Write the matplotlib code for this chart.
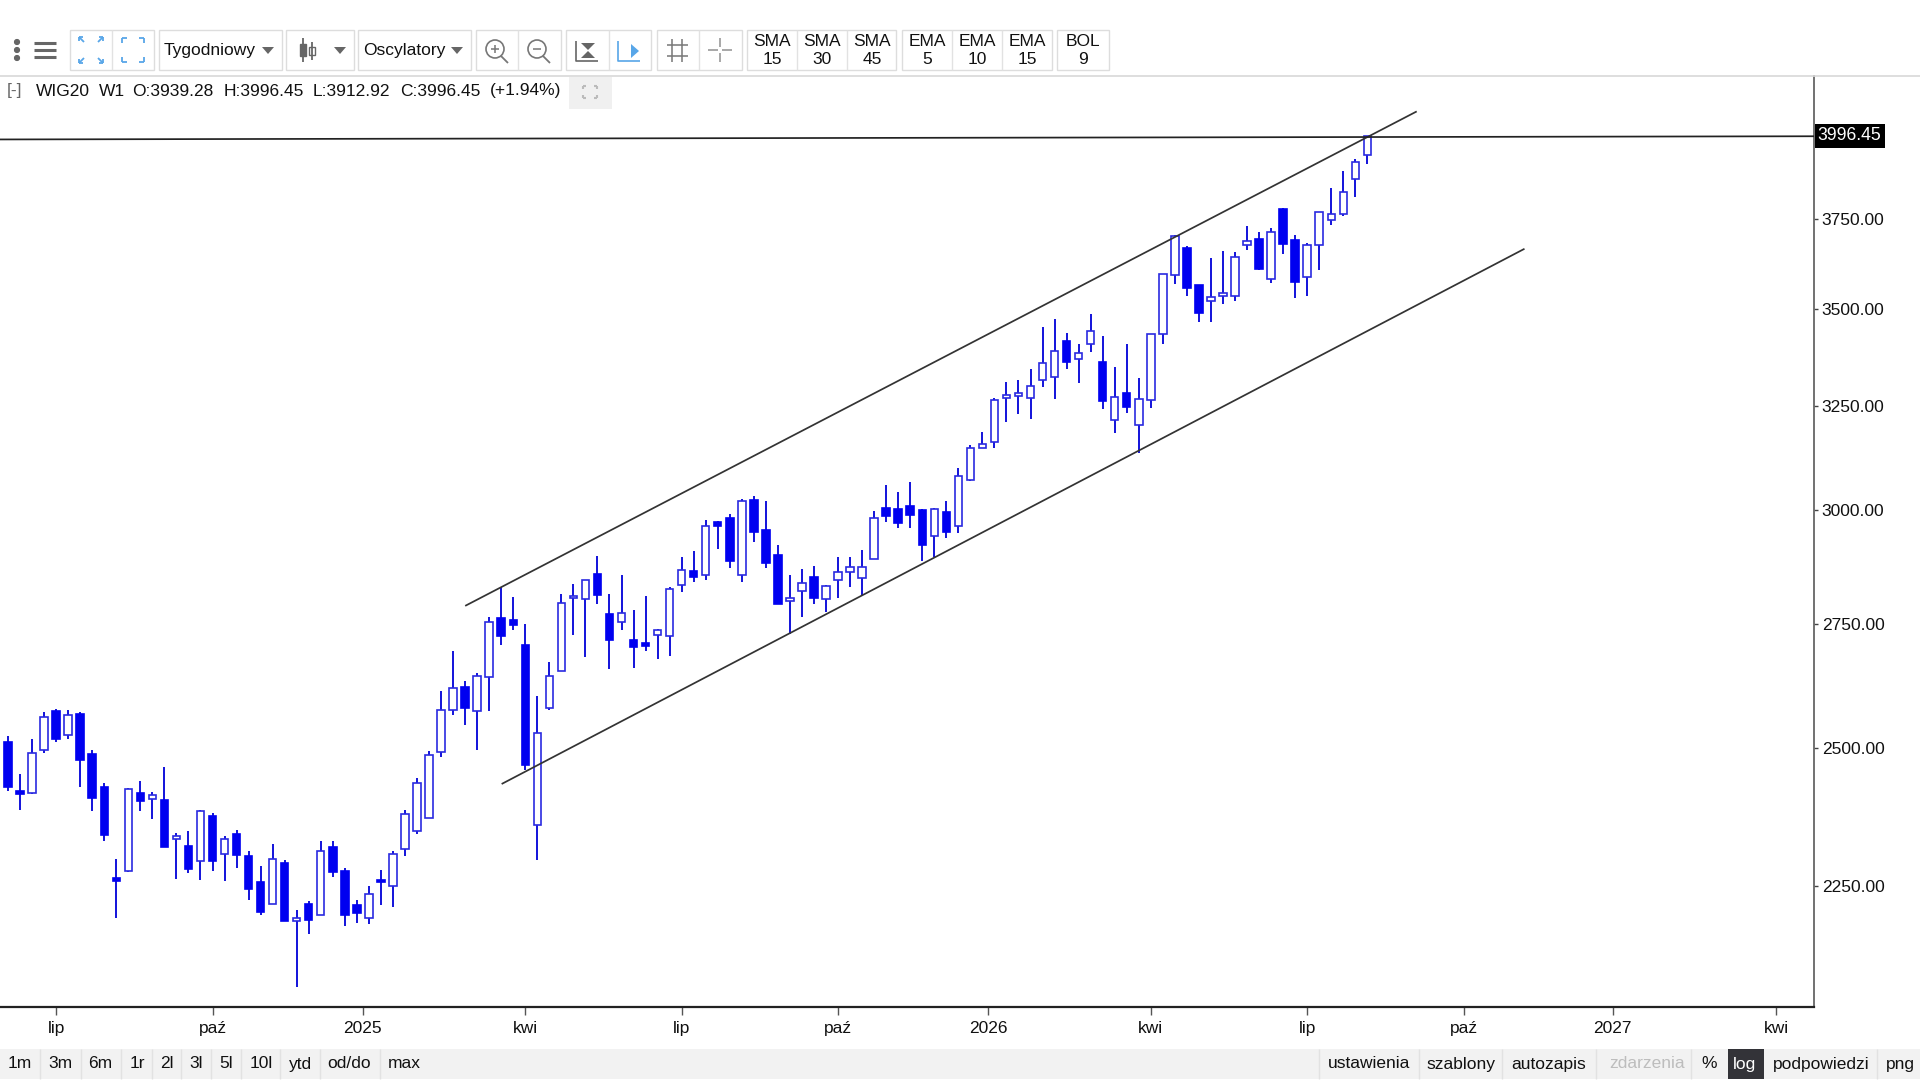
import matplotlib
matplotlib.use("Agg")
import matplotlib.pyplot as plt
from matplotlib.patches import Rectangle, Circle
from matplotlib.lines import Line2D

plt.rcParams['font.family'] = ['Liberation Sans', 'DejaVu Sans']

opens = [2512,2419,2416,2496,2573,2526,2567,2488,2426,2263,
2275,2416,2405,2403,2332,2319,2293,2374,2306,2340,
2302,2256,2219,2289,2190,2219,2200,2317,2275,2217,
2194,2260,2249,2314,2346,2369,2492,2574,2620,2572,
2640,2763,2758,2706,2357,2579,2653,2805,2802,2857,
2771,2754,2717,2709,2727,2725,2833,2863,2855,2974,
2983,2855,3024,2954,2898,2799,2821,2851,2802,2845,
2862,2848,2891,3006,3002,3011,3000,2942,2997,2965,
3071,3148,3161,3269,3276,3270,3314,3324,3417,3368,
3407,3362,3214,3283,3202,3264,3434,3593,3667,3565,
3523,3537,3537,3678,3694,3581,3781,3691,3589,3678,
3747,3764,3867,3939.28]
highs = [2523,2451,2518,2571,2576,2574,2570,2496,2435,2296,
2424,2437,2418,2465,2343,2346,2385,2379,2338,2348,
2311,2284,2323,2294,2208,2223,2328,2328,2281,2226,
2249,2277,2311,2385,2444,2495,2612,2694,2632,2649,
2764,2829,2807,2749,2602,2670,2814,2836,2845,2897,
2814,2855,2780,2809,2739,2828,2894,2908,2977,2975,
2991,3026,3032,3022,2921,2855,2869,2875,2834,2894,
2894,2910,2999,3059,3042,3067,3002,3006,3022,3099,
3155,3185,3269,3311,3314,3343,3454,3474,3436,3407,
3487,3430,3349,3407,3320,3435,3597,3706,3674,3566,
3640,3661,3657,3730,3714,3725,3784,3704,3683,3772,
3841,3890,3926,3996.45]
lows = [2419,2384,2414,2491,2511,2518,2426,2382,2328,2194,
2274,2382,2368,2317,2261,2271,2260,2275,2258,2280,
2225,2199,2218,2189,2081,2168,2199,2264,2181,2187,
2185,2216,2214,2302,2341,2369,2484,2565,2545,2497,
2572,2706,2738,2458,2295,2574,2652,2727,2680,2792,
2656,2738,2658,2694,2677,2683,2818,2840,2845,2913,
2870,2840,2928,2870,2792,2729,2764,2792,2774,2804,
2829,2810,2890,2973,2959,2959,2886,2894,2937,2948,
3069,3146,3147,3211,3230,3218,3297,3268,3343,3308,
3387,3242,3184,3233,3136,3245,3407,3568,3537,3467,
3465,3514,3523,3662,3608,3572,3651,3531,3537,3606,
3735,3758,3816,3912.92]
closes = [2427,2414,2490,2560,2518,2565,2477,2407,2339,2258,
2422,2400,2412,2318,2338,2279,2382,2292,2332,2303,
2244,2205,2297,2189,2194,2191,2310,2273,2200,2204,
2236,2256,2306,2377,2434,2487,2575,2618,2579,2643,
2754,2724,2748,2467,2529,2642,2794,2810,2843,2812,
2716,2773,2701,2703,2736,2825,2865,2850,2965,2965,
2886,3022,2950,2881,2793,2804,2838,2804,2832,2861,
2872,2872,2982,2988,2971,2990,2921,3003,2950,3079,
3148,3156,3265,3277,3283,3299,3360,3391,3362,3384,
3441,3263,3273,3248,3268,3434,3596,3702,3558,3490,
3534,3545,3642,3688,3609,3715,3679,3575,3676,3770,
3765,3828,3919,3996.45]

x_tick_positions = [4, 17, 29.5, 43, 56, 69, 81.5, 95, 108, 121, 133.4, 147]
x_tick_labels = ['lip', 'paź', '2025', 'kwi', 'lip', 'paź', '2026', 'kwi', 'lip', 'paź', '2027', 'kwi']
y_tick_values = [2250, 2500, 2750, 3000, 3250, 3500, 3750]
last_price = 3996.45

upper_x = [38.07, 117.04]
upper_v = [2789, 4072]
lower_x = [41.1, 126.0]
lower_v = [2433, 3665]
level_x = [-0.67, 150.13]
level_v = [3986.7, 3996.45]

W, H = 1920, 1080
BLUE = '#0000f0'
DARK = '#333333'
FS = 12.5

fig = plt.figure(figsize=(W/100, H/100), dpi=100, facecolor='white')

ax = fig.add_axes([0, (H-1007)/H, 1814/W, (1007-75.5)/H])
ax.set_yscale('log')
ax.set_xlim(-0.665, 150.13)
ax.set_ylim(2050, 4187)
ax.set_facecolor('white')
for s in ['top', 'left']:
    ax.spines[s].set_visible(False)
ax.spines['right'].set_color('#666666')
ax.spines['right'].set_linewidth(1.3)
ax.spines['bottom'].set_color('#222222')
ax.spines['bottom'].set_linewidth(1.6)

ax.yaxis.tick_right()
ax.minorticks_off()
ax.set_yticks(y_tick_values)
ax.set_yticklabels([f'{v:.2f}' for v in y_tick_values])
ax.yaxis.set_minor_locator(matplotlib.ticker.NullLocator())
ax.tick_params(axis='y', length=3, width=1, color='#444444', labelsize=12.5, pad=2.5, labelcolor='#111111')
for t in ax.get_yticklabels():
    t.set_va('center_baseline')
ax.set_xticks(x_tick_positions)
ax.set_xticklabels(x_tick_labels)
ax.tick_params(axis='x', length=6, width=1, color='#555555', labelsize=FS, pad=4, labelcolor='#111111')

BODY_W = 0.62
for i, (o, h, l, c) in enumerate(zip(opens, highs, lows, closes)):
    ax.plot([i, i], [l, h], color='#0000d8', lw=1.3, zorder=2, solid_capstyle='butt')
    up = c >= o
    ax.bar(i, abs(c-o), bottom=min(o, c), width=BODY_W,
           facecolor='white' if up else BLUE,
           edgecolor='#2a2ae0' if up else BLUE, linewidth=1.2, zorder=3)

ax.plot(upper_x, upper_v, color=DARK, lw=1.25, zorder=4)
ax.plot(lower_x, lower_v, color=DARK, lw=1.25, zorder=4)
ax.plot(level_x, level_v, color='#222222', lw=1.25, zorder=4)

# page furniture in pixel coordinates
ui = fig.add_axes([0, 0, 1, 1], zorder=10)
ui.set_xlim(0, W); ui.set_ylim(H, 0); ui.axis('off'); ui.patch.set_alpha(0)

def line(xs, ys, c='#666666', lw=1.2):
    ui.add_line(Line2D(xs, ys, color=c, lw=lw, solid_capstyle='butt'))

def box(x0, x1, dividers=()):
    ui.add_patch(Rectangle((x0, 30), x1-x0, 40, fc='white', ec='#dddddd', lw=1))
    for d in dividers:
        line([d, d], [30, 70], '#e2e2e2', 1)

def caret(x, y=50, c='#666666'):
    ui.fill([x-6, x+6, x], [y-3, y-3, y+4], color=c, lw=0)

def txt(x, y, s, ha='left', c='#111111', fs=FS):
    ui.text(x, y, s, ha=ha, va='center', color=c, fontsize=fs)

# last-price flag
ui.add_patch(Rectangle((1814.5, 124), 70, 24, fc='black', ec='none'))
txt(1849.5, 136, f'{last_price:.2f}', 'center', c='white', fs=12.7)

line([0, W], [75.5, 75.5], '#d8d8d8', 1.2)
for y in (42, 50, 58):
    ui.add_patch(Circle((17, y), 2.4, color='#666666'))
for y in (43, 50, 57):
    line([34, 56], [y, y], '#666666', 2.2)

box(70, 154, [112])
box(159, 282); box(286, 354); box(358, 471)
box(476, 561, [518]); box(566, 651, [609]); box(657, 742, [699])
box(747, 896, [797, 847]); box(902, 1052, [952, 1002]); box(1057, 1109)

ICON = '#58a6e8'
# expand
for sx, sy in ((-1, -1), (1, -1), (-1, 1), (1, 1)):
    cx, cy = 91 + 7*sx, 50 + 8*sy
    line([cx, cx+5*sx], [cy, cy+5*sy], ICON, 1.3)
    line([cx+5*sx, cx+5*sx-4*sx], [cy+5*sy, cy+5*sy], ICON, 1.3)
    line([cx+5*sx, cx+5*sx], [cy+5*sy, cy+5*sy-4*sy], ICON, 1.3)
    a, b = 133 + 11*sx, 50 + 12*sy
    line([a, a-5*sx], [b, b], ICON, 1.3)
    line([a, a], [b, b-5*sy], ICON, 1.3)

txt(164, 50, 'Tygodniowy'); caret(268)
# candle icon
line([303, 303], [38, 62], '#666666', 1.3); line([312, 312], [42, 60], '#666666', 1.3)
ui.add_patch(Rectangle((300, 44), 6, 12, fc='#666666', ec='#666666'))
ui.add_patch(Rectangle((309, 47), 6, 8, fc='white', ec='#666666'))
caret(340)
txt(363, 50, 'Oscylatory'); caret(457)

for cx, sym in ((495, '+'), (537, '-')):
    ui.add_patch(Circle((cx, 49), 9, fc='none', ec='#777777', lw=1.2))
    line([cx+6, cx+13], [56, 63], '#777777', 1.3)
    line([cx-4, cx+4], [49, 49], '#777777', 1.1)
    if sym == '+':
        line([cx, cx], [45, 53], '#777777', 1.1)

line([576, 576, 598], [41, 61, 61], '#666666', 1.2)
ui.fill([581, 595, 588], [43, 43, 50], color='#666666', lw=0)
ui.fill([581, 595, 588], [58, 58, 51], color='#666666', lw=0)
line([618, 618, 640], [41, 61, 61], ICON, 1.2)
ui.fill([631, 639, 631], [44, 51, 58], color=ICON, lw=0)

for v in (672, 682):
    line([v, v], [39, 62], '#777777', 1.1)
for h_ in (45, 56):
    line([667, 688], [h_, h_], '#777777', 1.1)
line([708, 718], [50, 50], '#999999', 1.2); line([722, 732], [50, 50], '#999999', 1.2)
line([720, 720], [38, 47], '#999999', 1.2); line([720, 720], [53, 62], '#999999', 1.2)

for cx, a, b in ((772, 'SMA', '15'), (822, 'SMA', '30'), (872, 'SMA', '45'),
                 (927, 'EMA', '5'), (977, 'EMA', '10'), (1027, 'EMA', '15'),
                 (1083, 'BOL', '9')):
    txt(cx, 41, a, 'center'); txt(cx, 60, b, 'center')

# legend row
txt(7, 91, '[-]', c='#666666')
for x, s in ((35.5, 'WIG20'), (99, 'W1'), (132, 'O:3939.28'), (224, 'H:3996.45'),
             (313, 'L:3912.92'), (400, 'C:3996.45'), (490, '(+1.94%)')):
    txt(x, 91, s)
ui.add_patch(Rectangle((569, 76.5), 43, 32.5, fc='#f0f0f0', ec='none'))
for sx, sy in ((-1, -1), (1, -1), (-1, 1), (1, 1)):
    a, b = 590 + 7*sx, 92 + 6*sy
    line([a, a-3*sx], [b, b], '#bbbbbb', 1.5)
    line([a, a], [b, b-3*sy], '#bbbbbb', 1.5)

# bottom bar
ui.add_patch(Rectangle((0, 1049), W, 30, fc='#f2f2f2', ec='none'))
K = 1920/1568
for d in (33, 66, 99, 124, 148, 172, 197, 229, 261, 310, 1077, 1159, 1227, 1303, 1381, 1533):
    line([d*K, d*K], [1049, 1079], '#e2e2e2', 1)
ui.add_patch(Rectangle((1411*K, 1049), 30*K, 30, fc='#333338', ec='none'))
for d, s in ((16, '1m'), (49, '3m'), (82, '6m'), (112, '1r'), (136, '2l'), (160, '3l'), (185, '5l'),
             (213, '10l'), (245, 'ytd'), (285, 'od/do'), (330, 'max'), (1118, 'ustawienia'),
             (1193, 'szablony'), (1265, 'autozapis'), (1396, '%'), (1487, 'podpowiedzi'), (1552, 'png')):
    txt(d*K, 1064, s, 'center')
txt(1345*K, 1064, 'zdarzenia', 'center', c='#bdbdbd')
txt(1425*K, 1064, 'log', 'center', c='white')

fig.savefig('out.png', dpi=100)
